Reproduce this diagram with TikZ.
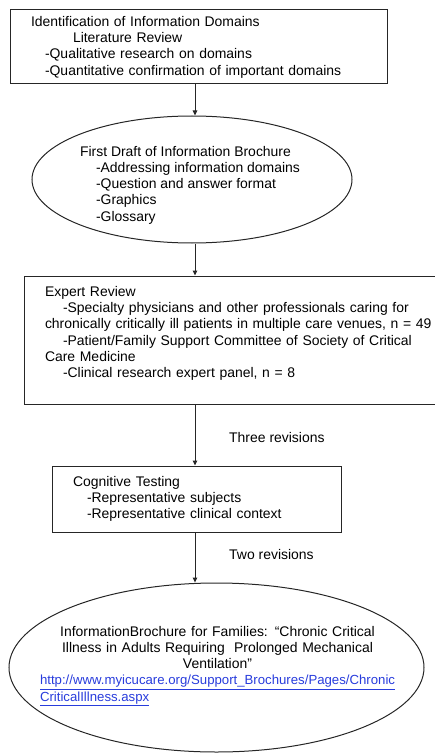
\documentclass[tikz,border=0pt]{standalone}
\usepackage{fontspec}
\setmainfont{Liberation Sans}
\usepackage{xcolor}
\usepackage{tikz}
\usetikzlibrary{arrows.meta,shapes.geometric}

\definecolor{linkblue}{RGB}{40,60,220}
\newcommand{\weblink}[1]{{\fontsize{13.2}{16.3}\selectfont\textcolor{linkblue}{\underline{#1}}}}

\tikzset{
  flowbox/.style={draw=black!85,line width=1pt,rectangle,align=left,inner xsep=21pt,inner ysep=0pt},
  flowoval/.style={draw=black!85,line width=1pt,ellipse,inner sep=0pt},
  revlabel/.style={anchor=west,inner sep=0pt},
  flowarrow/.style={draw=black!85,line width=1pt,-{Triangle[length=5pt,width=4.5pt]}}
}

\begin{document}
\begin{tikzpicture}[x=1pt,y=-1pt,font=\fontsize{13.95}{16.3}\selectfont]
\useasboundingbox (0,0) rectangle (434,754);

% Boxes and ovals
\node[flowbox,text width=335pt,minimum width=377pt,minimum height=74pt] (domains) at (198.5,47)
  {Identification of Information Domains\\
   \hspace*{42pt}Literature Review\\
   \hspace*{14pt}-Qualitative research on domains\\
   \hspace*{14pt}-Quantitative confirmation of important domains};

\node[flowoval,minimum width=320pt,minimum height=127pt] (draft) at (192,179.5) {};
\node[align=left,inner sep=0pt] (drafttext) at (190,185)
  {First Draft of Information Brochure\\
   \hspace*{16pt}-Addressing information domains\\
   \hspace*{16pt}-Question and answer format\\
   \hspace*{16pt}-Graphics\\
   \hspace*{16pt}-Glossary};

\node[flowbox,text width=400pt,minimum width=442pt,minimum height=128pt] (expert) at (245,340)
  {Expert Review\\
   \hspace*{18pt}-Specialty physicians and other professionals caring for\\
   chronically critically ill patients in multiple care venues, n = 49\\
   \hspace*{18pt}-Patient/Family Support Committee of Society of Critical\\
   Care Medicine\\
   \hspace*{18pt}-Clinical research expert panel, n = 8\\[0pt]\mbox{}};

\node[flowbox,text width=247pt,minimum width=289pt,minimum height=66pt] (cognitive) at (196.5,499)
  {Cognitive Testing\\
   \hspace*{14pt}-Representative subjects\\
   \hspace*{14pt}-Representative clinical context};

\node[flowoval,minimum width=415pt,minimum height=169pt] (brochure) at (216.5,667.5) {};
\node[align=center,text width=355pt,inner sep=0pt] (brochuretext) at (217.5,666)
  {InformationBrochure for Families: \textquotedblleft Chronic Critical\\
   Illness in Adults Requiring\ \ Prolonged Mechanical\\
   Ventilation\textquotedblright\\
   \makebox[355pt][l]{\weblink{http://www.myicucare.org/Support\_Brochures/Pages/Chronic}}\\
   \makebox[355pt][l]{\weblink{CriticalIllness.aspx}}};

% Arrows
\coordinate (spine) at (195,0);
\draw[flowarrow] (domains.south -| spine) -- (draft.north -| spine);
\draw[flowarrow] (draft.south -| spine) -- (expert.north -| spine);
\draw[flowarrow] (expert.south -| spine) -- (cognitive.north -| spine);
\draw[flowarrow] (cognitive.south -| spine) -- (brochure.north -| spine);

\node[revlabel] (three) at (229,438) {Three revisions};
\node[revlabel] (two) at (229,555) {Two revisions};
\end{tikzpicture}
\end{document}
